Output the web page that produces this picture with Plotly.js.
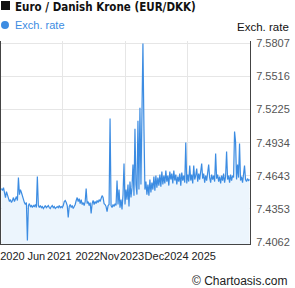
<!DOCTYPE html>
<html>
<head>
<meta charset="utf-8">
<script src="https://cdn.plot.ly/plotly-3.0.1.min.js"></script>
<style>html,body{margin:0;padding:0;background:#fff;}#chart{width:295px;height:288px;}</style>
</head>
<body>
<div id="chart"></div>
<script>
// EUR/DKK exchange rate (one per screen column)
const rates = [
7.4532,7.4514,7.4540,7.4479,7.4453,7.4505,7.4470,7.4444,7.4418,7.4435,
7.4409,7.4427,7.4453,7.4418,7.4444,7.4462,7.4427,7.4628,7.4479,7.4523,
7.4497,7.4462,7.4435,7.4409,7.4392,7.4409,7.4076,7.4383,7.4400,7.4374,
7.4383,7.4365,7.4383,7.4374,7.4392,7.4365,7.4637,7.4383,7.4365,7.4383,
7.4365,7.4374,7.4357,7.4374,7.4383,7.4365,7.4374,7.4383,7.4365,7.4357,
7.4374,7.4383,7.4365,7.4374,7.4357,7.4365,7.4374,7.4365,7.4383,7.4365,
7.4374,7.4365,7.4383,7.4418,7.4427,7.4409,7.4383,7.4278,7.4374,7.4392,
7.4365,7.4383,7.4357,7.4374,7.4392,7.4427,7.4453,7.4418,7.4444,7.4400,
7.4435,7.4392,7.4409,7.4383,7.4418,7.4532,7.4400,7.4418,7.4383,7.4409,
7.4313,7.4400,7.4427,7.4392,7.4418,7.4400,7.4427,7.4409,7.4435,7.4418,
7.4444,7.4470,7.4453,7.4400,7.4392,7.4374,7.4330,7.4383,7.4392,7.5145,
7.4383,7.4365,7.4392,7.4374,7.4400,7.4383,7.4602,7.4392,7.4523,7.4365,
7.4435,7.4348,7.4479,7.4751,7.4392,7.4523,7.4435,7.4567,7.4374,7.4593,
7.4453,7.4540,7.4742,7.4470,7.5057,7.4567,7.4479,7.5127,7.4523,7.5241,
7.4567,7.5285,7.5802,7.5075,7.4523,7.4593,7.4479,7.4567,7.4470,7.4611,
7.4497,7.4584,7.4523,7.4637,7.4514,7.4646,7.4540,7.4628,7.4558,7.4654,
7.4549,7.4681,7.4567,7.4646,7.4576,7.4689,7.4593,7.4646,7.4558,7.4681,
7.4611,7.4663,7.4576,7.4689,7.4602,7.4654,7.4567,7.4637,7.4593,7.4663,
7.4558,7.4672,7.4602,7.4646,7.4584,7.4935,7.4576,7.4654,7.4593,7.4733,
7.4602,7.4654,7.4576,7.4733,7.4611,7.4646,7.4707,7.4593,7.4663,7.4611,
7.4681,7.4751,7.4619,7.4663,7.4584,7.4646,7.4602,7.4672,7.4742,7.4628,
7.4584,7.4654,7.4611,7.4646,7.4593,7.4838,7.4619,7.4654,7.4593,7.4637,
7.4576,7.4646,7.4602,7.4663,7.4584,7.4637,7.4856,7.4611,7.4646,7.4584,
7.4654,7.4602,7.4646,7.4628,7.5031,7.4943,7.4611,7.4742,7.4628,7.4926,
7.4602,7.4637,7.4584,7.4654,7.4733,7.4611,7.4593,7.4619,7.4602,7.4611
];
const days = rates.map((v, i) => i);

// x-axis labels (as printed on the reference) and where they sit along the series
const xLabels = ["2020","Jun","2021","2022","Nov","2023","Dec","2024","2025"];
const xLabelPos = [11, 35, 58, 86.5, 108.5, 131, 153.5, 175.5, 203];
const xGridPos = [61.5, 124, 186.5];

// y-axis ticks
const yTickVals = [7.4062, 7.4353, 7.4643, 7.4934, 7.5225, 7.5516, 7.5807];
const yTickText = ["7.4062","7.4353","7.4643","7.4934","7.5225","7.5516","7.5807"];

const FONT = "Liberation Sans, Arial, sans-serif";
const NARROW = "Liberation Sans Narrow, DejaVu Sans Condensed, Arial Narrow, Liberation Sans, sans-serif";
const BLUE = "#3c8ce2";

const traces = [
  {
    x: days, y: rates, type: "scatter", mode: "lines",
    fill: "tozeroy", fillcolor: "#ecf5fd",
    line: {color: BLUE, width: 1.2},
    hoverinfo: "skip"
  },
  {
    x: days, y: rates, type: "scatter", mode: "lines",
    xaxis: "x2", line: {color: "rgba(0,0,0,0)", width: 0},
    hoverinfo: "skip"
  }
];

const layout = {
  width: 295, height: 288,
  margin: {l: 1, r: 45, t: 41, b: 44, pad: 0},
  paper_bgcolor: "#ffffff", plot_bgcolor: "#ffffff",
  showlegend: false,
  font: {family: FONT, size: 11, color: "#222"},
  xaxis: {
    range: [-0.5, 249.5], tickmode: "array", tickvals: xGridPos,
    showticklabels: false, showgrid: true, gridcolor: "#e6e6e6", gridwidth: 1,
    showline: true, linecolor: "#444", linewidth: 1, ticks: "", zeroline: false,
    fixedrange: true
  },
  xaxis2: {
    overlaying: "x", anchor: "y", side: "bottom",
    range: [-0.5, 249.5], tickmode: "array", tickvals: xLabelPos, ticktext: xLabels,
    showgrid: false, showline: false, ticks: "", zeroline: false,
    tickfont: {family: FONT, size: 11, color: "#222"}, tickangle: 0,
    ticklabelstandoff: 4,
    fixedrange: true
  },
  yaxis: {
    side: "right", range: [7.4046, 7.5825],
    tickmode: "array", tickvals: yTickVals, ticktext: yTickText,
    showgrid: true, gridcolor: "#e6e6e6", gridwidth: 1,
    showline: true, mirror: true, linecolor: "#444", linewidth: 1,
    ticks: "", zeroline: false, ticklabelstandoff: 3,
    tickfont: {family: FONT, size: 11, color: "#555"},
    fixedrange: true
  },
  shapes: [
    {type: "rect", xref: "paper", yref: "paper", x0: 0, x1: 0.0361, y0: 1.1527, y1: 1.1970,
     fillcolor: "#111", line: {width: 0}},
    {type: "circle", xref: "paper", yref: "paper", x0: 0, x1: 0.0321, y0: 1.0591, y1: 1.0985,
     fillcolor: BLUE, line: {width: 0}}
  ],
  annotations: [
    {text: "<b>Euro / Danish Krone (EUR/DKK)</b>", xref: "paper", yref: "paper",
     x: 0.0482, y: 1.1675, xanchor: "left", yanchor: "middle", showarrow: false,
     font: {family: NARROW, size: 11.5, color: "#111"}},
    {text: "Exch. rate", xref: "paper", yref: "paper",
     x: 0.0482, y: 1.0788, xanchor: "left", yanchor: "middle", showarrow: false,
     font: {family: FONT, size: 11, color: BLUE}},
    {text: "Exch. rate", xref: "paper", yref: "paper",
     x: 1.1647, y: 1.069, xanchor: "right", yanchor: "middle", showarrow: false,
     font: {family: FONT, size: 11.5, color: "#111"}},
    {text: "© Chartoasis.com", xref: "paper", yref: "paper",
     x: 1.1606, y: -0.1823, xanchor: "right", yanchor: "middle", showarrow: false,
     font: {family: FONT, size: 12, color: "#222"}}
  ]
};

Plotly.newPlot("chart", traces, layout, {displayModeBar: false, staticPlot: true});
</script>
</body>
</html>
